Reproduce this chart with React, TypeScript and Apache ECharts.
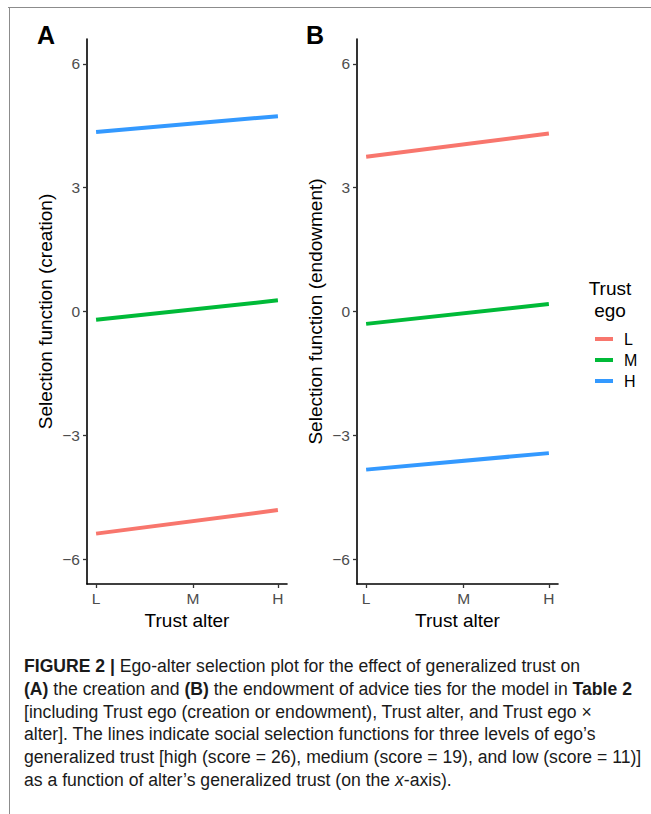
import React, { useEffect, useRef } from "react";
import * as echarts from "echarts";

const xScores = [11, 19, 26];
const xTickLabels = ["L", "M", "H"];
const yTicks = [-6, -3, 0, 3, 6];
const seriesNames = ["L", "M", "H"];
const seriesColors = ["#F8766D", "#00BA38", "#3399FF"];
// endpoints (at L and H) for each ego level
const creationL = [-5.38, -4.81];
const creationM = [-0.2, 0.27];
const creationH = [4.35, 4.73];
const endowL = [3.75, 4.31];
const endowM = [-0.3, 0.18];
const endowH = [-3.83, -3.43];

const captionLines = [
  "{b|FIGURE 2 |} Ego-alter selection plot for the effect of generalized trust on",
  "{b|(A)} the creation and {b|(B)} the endowment of advice ties for the model in {b|Table 2}",
  "[including Trust ego (creation or endowment), Trust alter, and Trust ego ×",
  "alter]. The lines indicate social selection functions for three levels of ego’s",
  "generalized trust [high (score = 26), medium (score = 19), and low (score = 11)]",
  "as a function of alter’s generalized trust (on the {i|x}-axis).",
];

const FONT = "Liberation Sans, Arial, sans-serif";
const CAPFONT = "Liberation Sans, Arial, sans-serif";

function fmtNum(v: number) {
  return v < 0 ? "\u2212" + Math.abs(v) : String(v);
}

export default function App() {
  const ref = useRef<HTMLDivElement>(null);
  useEffect(() => {
    if (!ref.current) return;
    const chart = echarts.init(ref.current, undefined, { renderer: "svg" });
    const xEnds = [xScores[0], xScores[2]];
    const mk = (vals: number[]) => vals.map((v, i) => [xEnds[i], v]);
    const panels = [
      [creationL, creationM, creationH],
      [endowL, endowM, endowH],
    ];
    const yNames = ["Selection function (creation)", "Selection function (endowment)"];
    const grids = [
      { left: 87, top: 39, width: 200, height: 545 },
      { left: 357, top: 39, width: 201, height: 545 },
    ];
    const xAxes = grids.map((_, gi) => ({
      type: "value",
      gridIndex: gi,
      min: 10.25,
      max: 26.75,
      name: "Trust alter",
      nameLocation: "middle",
      nameGap: 27,
      nameTextStyle: { fontFamily: FONT, fontSize: 19, color: "#000" },
      axisLine: { show: true, onZero: false, lineStyle: { color: "#000", width: 1.6 } },
      axisTick: { show: true, length: 4, customValues: xScores, lineStyle: { color: "#333", width: 1.3 } },
      axisLabel: {
        customValues: xScores,
        margin: 6,
        fontFamily: FONT,
        fontSize: 15.5,
        color: "#4D4D4D",
        formatter: (v: number) => xTickLabels[xScores.indexOf(v)] ?? "",
      },
      splitLine: { show: false },
    }));
    const yAxes = grids.map((_, gi) => ({
      type: "value",
      gridIndex: gi,
      min: -6.6,
      max: 6.6,
      name: yNames[gi],
      nameLocation: "middle",
      nameRotate: 90,
      nameGap: 32,
      nameTextStyle: { fontFamily: FONT, fontSize: 19, color: "#000" },
      axisLine: { show: true, onZero: false, lineStyle: { color: "#000", width: 1.6 } },
      axisTick: { show: true, length: 4, customValues: yTicks, lineStyle: { color: "#333", width: 1.3 } },
      axisLabel: {
        customValues: yTicks,
        margin: 7,
        fontFamily: FONT,
        fontSize: 15.5,
        color: "#4D4D4D",
        formatter: (v: number) => fmtNum(v),
      },
      splitLine: { show: false },
    }));
    const series: any[] = [];
    panels.forEach((p, gi) => {
      p.forEach((vals, si) => {
        series.push({
          type: "line",
          name: seriesNames[si],
          xAxisIndex: gi,
          yAxisIndex: gi,
          data: mk(vals),
          showSymbol: false,
          symbol: "none",
          lineStyle: { color: seriesColors[si], width: 4 },
          itemStyle: { color: seriesColors[si] },
          silent: true,
        });
      });
    });
    const graphic: any[] = [
      { type: "line", shape: { x1: 8, y1: 7.5, x2: 651, y2: 7.5 }, style: { stroke: "#8c8c8c", lineWidth: 1 } },
      { type: "line", shape: { x1: 9.5, y1: 7, x2: 9.5, y2: 814 }, style: { stroke: "#8c8c8c", lineWidth: 1 } },
      { type: "text", left: 37, top: 22, style: { text: "A", font: `bold 25px ${FONT}`, fill: "#000" } },
      { type: "text", left: 306, top: 22, style: { text: "B", font: `bold 25px ${FONT}`, fill: "#000" } },
      {
        type: "text",
        x: 610,
        y: 277,
        style: { text: "Trust\nego", font: `19px ${FONT}`, fill: "#000", align: "center", lineHeight: 22 },
      },
    ];
    captionLines.forEach((ln, i) => {
      graphic.push({
        type: "text",
        x: 24,
        y: 666 + i * 22.8,
        style: {
          text: ln,
          fontFamily: CAPFONT,
          fontSize: 17.6,
          fill: "#1a1a1a",
          verticalAlign: "middle",
          rich: {
            b: { fontFamily: CAPFONT, fontSize: 17.6, fontWeight: "bold", fill: "#1a1a1a" },
            i: { fontFamily: CAPFONT, fontSize: 17.6, fontStyle: "italic", fill: "#1a1a1a" },
          },
        },
      });
    });
    chart.setOption({
      animation: false,
      backgroundColor: "#fff",
      grid: grids,
      xAxis: xAxes,
      yAxis: yAxes,
      series,
      legend: {
        data: seriesNames,
        orient: "vertical",
        left: 590,
        top: 326,
        itemWidth: 18,
        itemHeight: 4,
        itemGap: 5,
        icon: "rect",
        selectedMode: false,
        textStyle: { fontFamily: FONT, fontSize: 16, color: "#000", padding: [0, 0, 0, 6] },
      },
      graphic,
    });
    return () => chart.dispose();
  }, []);
  return (
    <div
      ref={ref}
      style={{ position: "fixed", left: 0, top: 0, width: 651, height: 814, background: "#fff" }}
    />
  );
}
